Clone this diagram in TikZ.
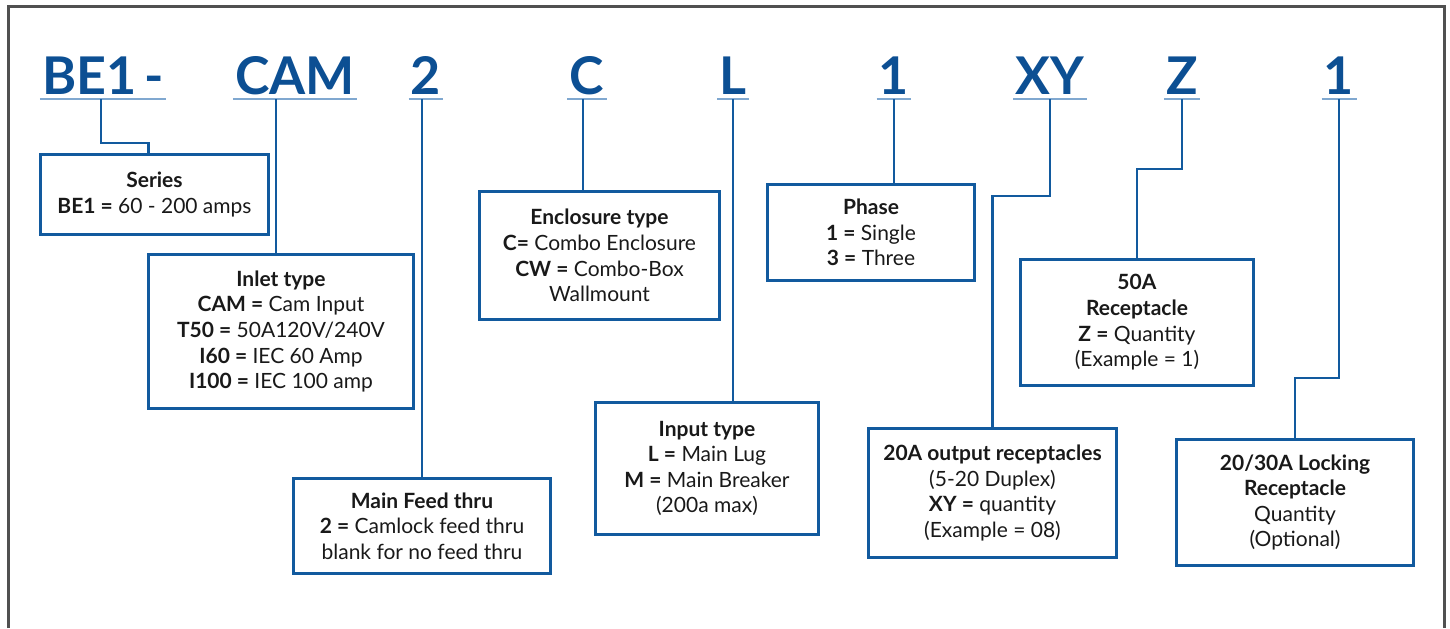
\documentclass[tikz,border=0pt]{standalone}
\usepackage{fontspec}
\setmainfont{Lato}
\usepackage{tikz}
\usetikzlibrary{calc}
\definecolor{codeblue}{HTML}{0C4F93}
\definecolor{boxblue}{HTML}{125A9E}
\definecolor{lineblue}{HTML}{80A8D0}
\definecolor{framegray}{HTML}{505050}
\tikzset{
  code/.style={font=\fontsize{26}{26}\selectfont\bfseries, text=codeblue, inner xsep=1pt, inner ysep=2pt, anchor=south},
  infobox/.style={draw=boxblue, line width=1.5pt, align=center, anchor=north west, inner sep=0pt,
    font=\fontsize{10.5}{12.8}\selectfont, text=black!90},
  link/.style={draw=boxblue, line width=1.4pt},
  uline/.style={draw=lineblue, line width=1pt}
}
\newcommand{\codeline}[1]{ \draw[uline] (#1.south west) -- (#1.south east);}

\begin{document}
\begin{tikzpicture}[x=0.5pt,y=0.5pt]
        \useasboundingbox (0,0) rectangle (1450,-628);
        % frame
        \draw[framegray, line width=1.5pt] (8,-628) -- (8,-6) -- (1444,-6) -- (1444,-628);
        % codes
        \node[code] (be) at (103,-99) {BE1\hspace{0.15em}-};
        \node[code] (cam) at (295,-99) {CAM};
        \node[code] (two) at (426,-99) {2};
        \node[code] (c) at (587,-99) {C};
        \node[code] (l) at (733,-99) {L};
        \node[code] (one) at (894,-99) {1};
        \node[code] (xy) at (1050,-99) {XY};
        \node[code] (z) at (1182,-99) {Z};
        \node[code] (opt) at (1339,-99) {1};
        % underlines
        \codeline{be}
        \codeline{cam}
        \codeline{two}
        \codeline{c}
        \codeline{l}
        \codeline{one}
        \codeline{xy}
        \codeline{z}
        \codeline{opt}
        % boxes
        \node[infobox, minimum width=114pt, minimum height=40pt] (series) at (39,-153)
          {\textbf{Series}\\\textbf{BE1 =} 60 - 200 amps};
        \node[infobox, minimum width=132.5pt, minimum height=77pt] (inlet) at (147,-253)
          {\textbf{Inlet type}\\\textbf{CAM =} Cam Input\\\textbf{T50 =} 50A120V/240V\\\textbf{I60 =} IEC 60 Amp\\\textbf{I100 =} IEC 100 amp};
        \node[infobox, minimum width=128.5pt, minimum height=47.5pt] (feed) at (292,-477)
          {\textbf{Main Feed thru}\\\textbf{2 =} Camlock feed thru\\blank for no feed thru};
        \node[infobox, minimum width=120pt, minimum height=64pt] (encl) at (478,-190)
          {\textbf{Enclosure type}\\\textbf{C=} Combo Enclosure\\\textbf{CW =} Combo-Box\\Wallmount};
        \node[infobox, minimum width=111.5pt, minimum height=66pt] (input) at (594,-401)
          {\textbf{Input type}\\\textbf{L =} Main Lug\\\textbf{M =} Main Breaker\\(200a max)};
        \node[infobox, minimum width=103.5pt, minimum height=48pt] (phase) at (766,-183)
          {\textbf{Phase}\\\textbf{1 =} Single\\\textbf{3 =} Three};
        \node[infobox, minimum width=116.5pt, minimum height=63pt] (recz) at (1019,-258)
          {\textbf{50A}\\\textbf{Receptacle}\\\textbf{Z =} Quantity\\(Example = 1)};
        \node[infobox, minimum width=124pt, minimum height=64.5pt] (out20) at (867,-427)
          {\textbf{20A output receptacles}\\(5-20 Duplex)\\\textbf{XY =} quantity\\(Example = 08)};
        \node[infobox, minimum width=118.5pt, minimum height=63pt] (lock) at (1175,-438)
          {\textbf{20/30A Locking}\\\textbf{Receptacle}\\Quantity\\(Optional)};
        % links
        \draw[link] ([xshift=-1pt]be.south) -- ++(0,-44) -| ([xshift=-3pt]series.north);
        \draw[link] ([xshift=-9.5pt]cam.south) -- ([xshift=-9.5pt]cam.south |- inlet.north);
        \draw[link] ([xshift=-2pt]two.south) -- ([xshift=-2pt]two.south |- feed.north);
        \draw[link] ([xshift=-2pt]c.south) -- ([xshift=-2pt]c.south |- encl.north);
        \draw[link] (l.south) -- (l.south |- input.north);
        \draw[link] (one.south) -- (one.south |- phase.north);
        \draw[link] (xy.south) -- ++(0,-97) -| (out20.north);
        \draw[link] (z.south) -- ++(0,-70) -| (recz.north);
        \draw[link] (opt.south) -- ++(0,-279) -| (lock.north);
\end{tikzpicture}
\end{document}
